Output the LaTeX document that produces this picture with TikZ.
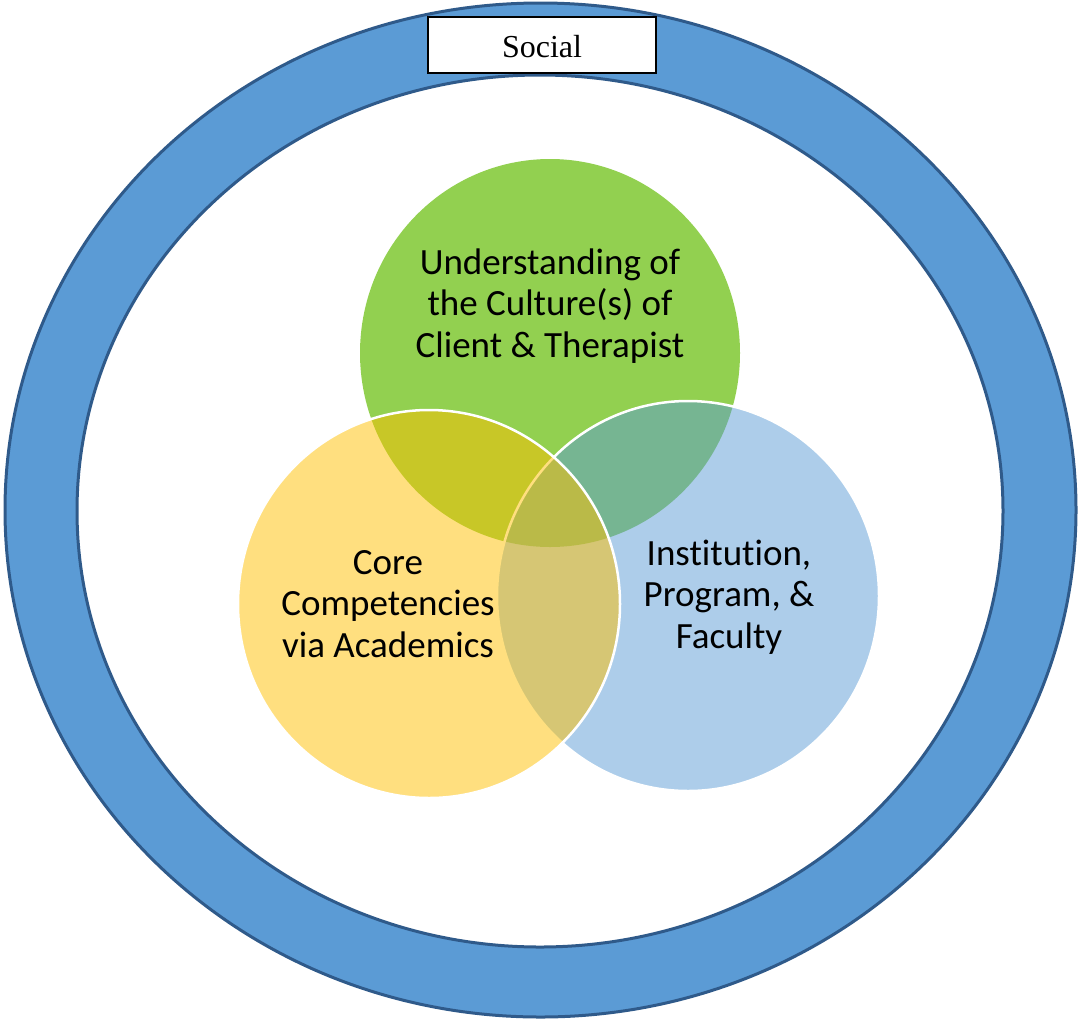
\documentclass[tikz,border=0pt]{standalone}
\usepackage{fontspec}
\setmainfont{Liberation Serif}
\newfontfamily\calibri[Ligatures=NoCommon]{Carlito}
\usepackage{xcolor}
\usepackage{tikz}

\definecolor{ringblue}{HTML}{5B9BD5}
\definecolor{ringline}{HTML}{2F5A8A}
\definecolor{cultgreen}{HTML}{92D050}
\definecolor{coregold}{HTML}{FFC000}
\definecolor{instblue}{HTML}{5B9BD5}

\begin{document}
\begin{tikzpicture}[x=1pt, y=-1pt,
  circletext/.style={font=\calibri\fontsize{37}{41.5}\selectfont, align=center, inner sep=0pt},
  venn/.style={draw=white, line width=2.5pt, fill opacity=0.5}]
\useasboundingbox (0,0) rectangle (1078,1021);

\fill[ringblue, even odd rule] (540.5,510) ellipse [x radius=535.5, y radius=507]
  (540,511) ellipse [x radius=463, y radius=436];
\draw[ringline, line width=3pt] (540.5,510) ellipse [x radius=535.5, y radius=507];
\draw[ringline, line width=3pt] (540,511) ellipse [x radius=463, y radius=436];

\node[draw=black, line width=2.5pt, fill=white, minimum width=228pt, minimum height=56pt,
  text height=25pt, text depth=0pt, font=\fontsize{32}{38}\selectfont] (social) at (542,45) {Social};

\fill[cultgreen] (550,353) ellipse [x radius=190, y radius=194];
\draw[venn, fill=instblue] (688,596) ellipse [x radius=191, y radius=195];
\draw[venn, fill=coregold] (429,604) ellipse [x radius=191, y radius=194];

\node[circletext] (culture) at (550,306) {Understanding of\\the Culture(s) of\\Client \& Therapist};
\node[circletext] (core) at (388,604) {Core\\Competencies\\via Academics};
\node[circletext] (inst) at (729,597) {Institution,\\Program, \&\\Faculty};
\end{tikzpicture}
\end{document}
